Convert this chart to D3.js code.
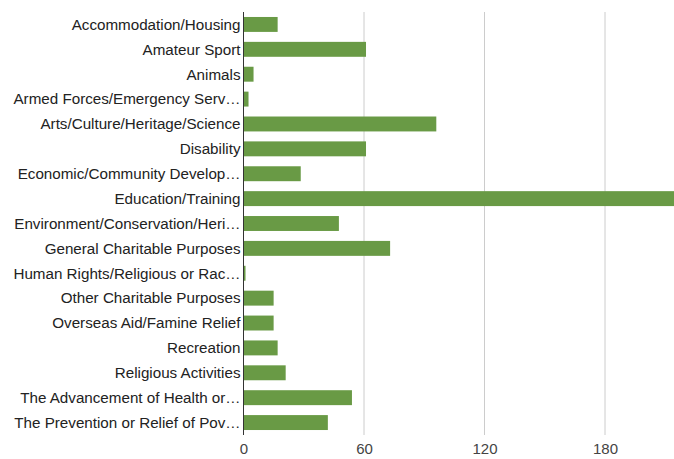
<!DOCTYPE html>
<html>
<head>
<meta charset="utf-8">
<script src="https://cdn.jsdelivr.net/npm/d3@7"></script>
<style>
  body { margin: 0; background: #fff; overflow: hidden; }
  svg text { font-family: "Liberation Sans", Arial, sans-serif; }
</style>
</head>
<body>
<svg id="bars"></svg>
<script>
// chart data
const categories = [
  "Accommodation/Housing",
  "Amateur Sport",
  "Animals",
  "Armed Forces/Emergency Serv\u2026",
  "Arts/Culture/Heritage/Science",
  "Disability",
  "Economic/Community Develop\u2026",
  "Education/Training",
  "Environment/Conservation/Heri\u2026",
  "General Charitable Purposes",
  "Human Rights/Religious or Rac\u2026",
  "Other Charitable Purposes",
  "Overseas Aid/Famine Relief",
  "Recreation",
  "Religious Activities",
  "The Advancement of Health or\u2026",
  "The Prevention or Relief of Pov\u2026"
];
const counts = [17, 61, 5, 2.5, 96, 61, 28.5, 230, 47.5, 73, 1, 15, 15, 17, 21, 54, 42];
const tickValues = [0, 60, 120, 180];

let width = 674, height = 459;
let margin = {top: 12, left: 243.5, bottom: 24};
let plotHeight = height - margin.top - margin.bottom;

var svg = d3.select("#bars")
  .attr("width", width)
  .attr("height", height);

var xscale = d3.scaleLinear()
  .domain([0, 240])
  .range([0, 482]);

var yscale = d3.scaleBand()
  .domain(categories)
  .range([0, plotHeight])
  .paddingInner(0.4)
  .paddingOuter(0.2);

let g = svg.append("g")
  .attr("transform", "translate(" + margin.left + "," + margin.top + ")");

// gridlines
g.append("g")
  .selectAll("line")
  .data(tickValues.filter(d => d > 0))
  .enter()
  .append("line")
  .attr("x1", d => xscale(d))
  .attr("x2", d => xscale(d))
  .attr("y1", 0)
  .attr("y2", plotHeight)
  .attr("stroke", "#cccccc")
  .attr("stroke-width", 1);

// bars
g.append("g")
  .selectAll("rect")
  .data(categories)
  .enter()
  .append("rect")
  .attr("x", 0)
  .attr("y", d => yscale(d))
  .attr("height", yscale.bandwidth())
  .attr("width", (d, i) => xscale(counts[i]))
  .attr("fill", "#699a45");

// zero axis line
g.append("line")
  .attr("x1", 0).attr("x2", 0)
  .attr("y1", 0).attr("y2", plotHeight)
  .attr("stroke", "#333333")
  .attr("stroke-width", 1);

// category labels
g.append("g")
  .selectAll("text")
  .data(categories)
  .enter()
  .append("text")
  .attr("x", -3)
  .attr("y", d => yscale(d) + yscale.bandwidth() / 2)
  .attr("dy", "0.35em")
  .attr("text-anchor", "end")
  .style("font-size", "15.2px")
  .style("fill", "#222222")
  .text(d => d);

// x tick labels
let xAxis = g.append("g")
  .attr("transform", "translate(0," + plotHeight + ")")
  .call(d3.axisBottom(xscale).tickValues(tickValues).tickSize(0).tickPadding(8));
xAxis.select(".domain").remove();
xAxis.selectAll("text")
  .style("font-size", "15px")
  .style("fill", "#444444")
  .style("font-family", "'Liberation Sans', Arial, sans-serif");
</script>
</body>
</html>
